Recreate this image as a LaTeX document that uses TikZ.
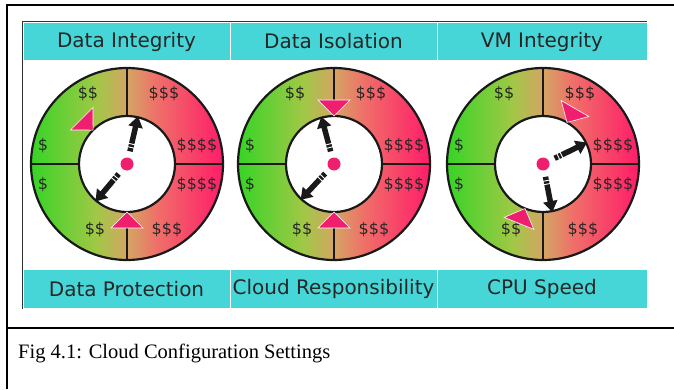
\documentclass[tikz,border=0pt]{standalone}
\usepackage{fontspec}
\setmainfont{Liberation Serif}
\newfontfamily\dialfont{DejaVu Sans}
\usepackage{tikz}
\usetikzlibrary{arrows.meta}
\usepackage{xcolor}
\definecolor{cellcyan}{RGB}{70, 214, 216}
\definecolor{dialgreen}{RGB}{55, 212, 38}
\definecolor{dialolive}{RGB}{160, 200, 70}
\definecolor{dialtan}{RGB}{212, 165, 100}
\definecolor{dialsalmon}{RGB}{240, 110, 105}
\definecolor{dialpink}{RGB}{255, 28, 105}
\definecolor{markpink}{RGB}{240, 30, 110}
\pgfdeclarehorizontalshading{dialshade}{100bp}{color(0bp)=(dialgreen); color(25bp)=(dialgreen);
    color(42bp)=(dialolive); color(50bp)=(dialtan); color(58bp)=(dialsalmon); color(75bp)=(dialpink); color(100bp)=(dialpink)}

% #1 name, #2 centre x, #3 #4 marker angles, #5 #6 needle angles
\newcommand{\dial}[6]{%
    \coordinate (#1) at (#2,225);
    \shade[shading=dialshade] (#1) circle (96pt);
    \fill[white] (#1) circle (48pt);
    \draw[ring] (#1) circle (96pt) (#1) circle (48pt);
    \draw[ring] ([xshift=48pt]#1) -- ([xshift=96pt]#1) ([xshift=-48pt]#1) -- ([xshift=-96pt]#1);
    \draw[ring] ([yshift=48pt]#1) -- ([yshift=96pt]#1) ([yshift=-48pt]#1) -- ([yshift=-96pt]#1);
    \node[price] (#1-a) at ([shift={(-39pt,70pt)}]#1) {\$\$};
    \node[price] (#1-b) at ([shift={(37pt,70pt)}]#1) {\$\$\$};
    \node[price] (#1-c) at ([shift={(-84pt,18pt)}]#1) {\$};
    \node[price] (#1-d) at ([shift={(70pt,18pt)}]#1) {\$\$\$\$};
    \node[price] (#1-e) at ([shift={(-84pt,-21pt)}]#1) {\$};
    \node[price] (#1-f) at ([shift={(70pt,-21pt)}]#1) {\$\$\$\$};
    \node[price] (#1-g) at ([shift={(-32pt,-66pt)}]#1) {\$\$};
    \node[price] (#1-h) at ([shift={(40pt,-66pt)}]#1) {\$\$\$};
    \foreach \a in {#3,#4} {
        \fill[markpink, draw=white, line width=0.6pt] ([shift={(\a:48pt)}]#1) -- ([shift={(\a+14:66pt)}]#1) -- ([shift={(\a-14:66pt)}]#1) -- cycle;
    }
    \foreach \a in {#5,#6} {
        \draw[needle] ([shift={(\a:13pt)}]#1) -- ([shift={(\a:49pt)}]#1);
        \draw[stripe] ([shift={(\a:17pt)}]#1) ++(\a+90:3.5pt) -- ++(\a-90:7pt);
        \draw[stripe] ([shift={(\a:20.5pt)}]#1) ++(\a+90:3.5pt) -- ++(\a-90:7pt);
    }
    \fill[markpink] (#1) circle (6.5pt);
}

\begin{document}
\begin{tikzpicture}[x=1pt, y=1pt,
    cell/.style={fill=cellcyan, draw=white, line width=0.8pt, minimum width=207pt, minimum height=38.5pt, inner sep=0pt, font=\dialfont\fontsize{20}{24}\selectfont, text=black!85},
    price/.style={inner sep=0pt, font=\dialfont\fontsize{16}{19}\selectfont, text=black!85},
    ring/.style={line width=2.2pt, black!90},
    needle/.style={line width=5.5pt, black!90, -{Triangle[width=14pt, length=11pt]}},
    stripe/.style={white, line width=0.9pt}]
    \useasboundingbox (0,0) rectangle (674,389);

    % frame
    \coordinate (ftop) at (7,384);
    \coordinate (fright) at (674,384);
    \coordinate (fbot) at (7,0);
    \coordinate (fmidl) at (7,61);
    \coordinate (fmidr) at (674,61);
    \draw[line width=2.2pt] (fbot) -- (ftop) -- (fright);
    \draw[line width=2.2pt] (fmidl) -- (fmidr);

    % header and footer cells
    \node[cell] (integrity) at (126.5,347.5) {Data Integrity};
    \node[cell] (isolation) at (333.5,347.5) {Data Isolation};
    \node[cell, minimum width=210pt] (vm) at (542,347.5) {VM Integrity};
    \node[cell] (protection) at (126.5,100) {Data Protection};
    \node[cell] (responsibility) at (333.5,100) {Cloud Responsibility};
    \node[cell, minimum width=210pt] (cpu) at (542,100) {CPU Speed};
    \draw[line width=0.8pt, black!80] (protection.south west) -- (integrity.north west) -- (vm.north east);

    % dials
    \dial{dialA}{127}{135}{270}{77}{230}
    \dial{dialB}{334}{90}{270}{105}{227}
    \dial{dialC}{543}{60}{248}{26}{281}

    \node[anchor=base west, inner sep=0pt, font=\fontsize{20.5}{24}\selectfont] (caption) at (18,31) {Fig 4.1: Cloud Configuration Settings};
\end{tikzpicture}
\end{document}
